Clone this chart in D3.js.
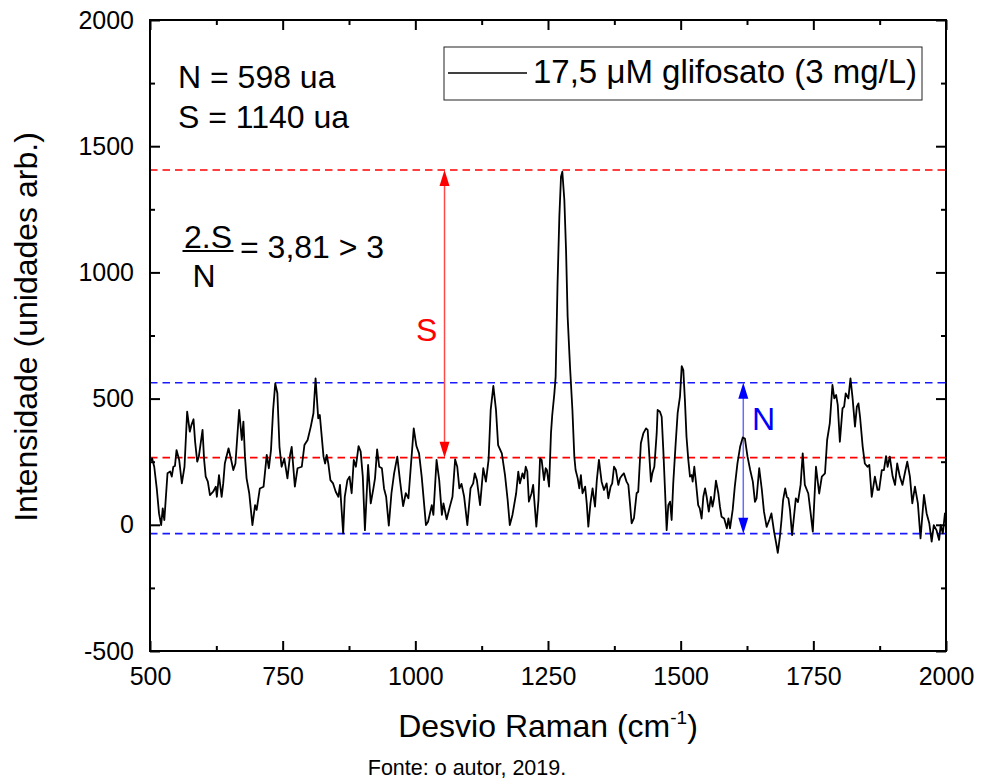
<!DOCTYPE html>
<html>
<head>
<meta charset="utf-8">
<script src="https://cdn.jsdelivr.net/npm/d3@7/dist/d3.min.js"></script>
<style>
  html, body { margin: 0; padding: 0; background: #fff; }
  svg { display: block; font-family: "Liberation Sans", Arial, sans-serif; }
</style>
</head>
<body>
<svg id="chart" width="982" height="783"></svg>
<script>
// ---------------- data ----------------
const ramanShift = [
  500,504,508,513,517,521,524,527,533,538,541,544,547,550,555,560,565,570,575,578,582,585,589,592,599,602,605,609,613,619,624,626,630,635,638,641,648,653,657,661,668,673,676,679,682,687,693,698,701,707,714,720,724,728,732,736,740,744,748,753,759,764,767,773,778,786,791,797,803,808,812,817,820,827,830,833,836,840,845,850,855,858,864,
  867,872,876,880,884,888,893,897,901,905,911,916,921,924,928,932,937,941,945,950,955,960,966,971,977,982,987,991,997,1002,1007,1012,1020,1024,1031,1034,1040,1045,1050,1053,1059,1065,1070,1075,1079,1083,1087,1092,1098,1104,1109,1112,1116,1122,1128,1133,1138,1142,1147,1152,1156,1163,1169,1174,1178,1183,1190,1194,1197,1202,1205,1208,1211,1214,1219,1222,1228,
  1232,1235,1238,1242.5,1245.6,1248,1252,1255.6,1258,1262,1264.4,1268,1271.4,1274.5,1277,1280.8,1284,1287,1291.5,1296,1299.6,1302,1306,1309,1312,1315,1320,1323,1326,1330,1334,1338.6,1342,1346,1351,1355.5,1360.5,1363.7,1368,1371,1374.4,1378,1382.5,1385.7,1390,1393,1398,1401.4,1404.5,1407.6,1412,1417,1420,1425,1429.6,1434.7,1437.8,1440.3,1444,1446.6,1450.4,1454.8,1456.6,1461,1464.2,1467.3,1470.5,1473.6,1476.7,1480,1483,1486,1490.6,1494.3,1498.7,
  1502,1505,1508,1511,1514.4,1517.6,1520.7,1522.6,1525.7,1529,1533,1536,1539.5,1542.7,1546,1549,1553,1557,1560,1563,1566.5,1571,1574,1577,1582,1587,1590,1593,1598,1602,1607,1612,1617,1621,1626,1631,1636,1640,1643,1648,1653,1657,1662,1667,1671,1676,1680,1683,1687,1690,1693,1697,1700,1703,1706,1710,1713.5,1717,1721,
  1726,1730,1734,1740.5,1745,1749,1755,1761,1766,1772,1776,1781,1786,1789.5,1793,1796,1800,1805,1808,1811,1816,1820,1824,1828.5,1832,1835,1838,1843,1847,1852,1855.5,1860,1866,1871,1874,1879,1883,1887,1890,1894,1899.5,1904,1908,1913,1918,1923,1927,1932,1936.5,1941.5,1947,1952,1958.5,1963.5,1968.5,1973,1977,1982,1987,1990,1994,1998,2000
];
const intensity = [
  250,263,230,138,45,-1,65,19,204,211,191,230,233,296,257,164,230,448,369,395,418,329,250,270,376,257,191,171,118,131,151,111,197,111,164,243,303,257,217,243,455,336,409,270,184,125,-1,78,59,144,151,277,224,296,455,560,521,309,230,263,184,277,309,151,224,230,316,336,389,442,580,422,435,270,243,277,243,177,164,131,111,158,-34,
  111,177,191,125,257,230,312,290,191,-21,237,85,144,184,299,230,224,144,111,-3,125,204,270,177,74,125,105,217,382,312,283,191,-1,12,78,39,257,177,39,85,22,72,111,259,230,144,162,111,-1,144,164,204,177,78,224,171,257,455,550,455,316,283,197,98,-1,39,125,211,164,204,184,230,211,92,125,158,-7,
  98,263,257,177,224,217,151,362,435,521,587,957,1221,1379,1399,1287,1089,825,626,455,270,217,184,144,197,125,151,85,-7,85,144,72,177,257,171,138,164,105,151,164,230,217,158,184,197,204,171,158,85,6,26,125,131,323,362,382,376,296,171,204,230,362,455,448,428,296,138,-21,78,92,19,164,323,442,508,
  629,613,494,349,257,191,197,171,230,164,78,65,25,111,144,111,52,111,72,105,175,125,72,32,25,-14,25,-14,59,151,243,309,346,342,270,217,171,91,105,224,138,52,-8,19,45,-27,-73,-111,-47,19,98,144,111,105,59,-41,32,105,90,
  158,283,158,124,45,-27,230,124,191,204,336,402,554,501,514,475,329,461,468,521,501,580,501,389,468,481,428,310,243,230,237,111,191,138,138,217,217,272,230,270,191,158,243,191,158,210,250,191,85,151,85,-54,118,45,6,-67,-1,-21,-60,-1,-34,45,40
];
const seriesName = "17,5 \u03BCM glifosato (3 mg/L)";
const xTicks = [500, 750, 1000, 1250, 1500, 1750, 2000];
const xMinorTicks = [625, 875, 1125, 1375, 1625, 1875];
const yTicks = [-500, 0, 500, 1000, 1500, 2000];
const yMinorTicks = [-250, 250, 750, 1250, 1750];
const signalLevels = [1406, 266];   // red dashed
const noiseLevels = [563, -35];     // blue dashed
const sArrowX = 1055;
const nArrowX = 1618;
const noteLines = ["N = 598 ua", "S = 1140 ua"];
const ratioParts = ["2.S", "N", "= 3,81 > 3"];

// ---------------- layout ----------------
const svg = d3.select("#chart");
const L = 150, R = 946, T = 20, B = 651;
const x = d3.scaleLinear().domain([500, 2000]).range([L, R]);
const y = d3.scaleLinear().domain([-500, 2000]).range([B, T]);

// reference dashed lines
function hline(v, color) {
  svg.append("line")
    .attr("x1", L).attr("x2", R)
    .attr("y1", y(v)).attr("y2", y(v))
    .attr("stroke", color).attr("stroke-width", 1.6)
    .attr("stroke-dasharray", "7.5,5");
}
signalLevels.forEach(v => hline(v, "#ff0000"));
noiseLevels.forEach(v => hline(v, "#1a1aff"));

// arrows
function arrow(xv, v1, v2, lineColor, headColor) {
  const xp = x(xv);
  const top = y(Math.max(v1, v2)), bot = y(Math.min(v1, v2));
  const hl = 16, hw = 5;
  svg.append("line").attr("x1", xp).attr("x2", xp)
    .attr("y1", top + hl - 2).attr("y2", bot - hl + 2)
    .attr("stroke", lineColor).attr("stroke-width", 1.5);
  svg.append("path")
    .attr("d", `M${xp},${top} L${xp - hw},${top + hl} L${xp + hw},${top + hl} Z`)
    .attr("fill", headColor);
  svg.append("path")
    .attr("d", `M${xp},${bot} L${xp - hw},${bot - hl} L${xp + hw},${bot - hl} Z`)
    .attr("fill", headColor);
}
arrow(sArrowX, signalLevels[0], signalLevels[1], "#ff4a4a", "#ff0000");
arrow(nArrowX, noiseLevels[0], noiseLevels[1], "#6a6aff", "#0000ff");

// trace
const pts = ramanShift.map((c, i) => [c, intensity[i]]);
svg.append("path")
  .datum(pts)
  .attr("fill", "none")
  .attr("stroke", "#000")
  .attr("stroke-width", 1.8)
  .attr("stroke-linejoin", "round")
  .attr("d", d3.line().x(d => x(d[0])).y(d => y(d[1])));

// axes
const tickFont = 25;
const fmt = d => String(d);
function styleAxis(g) {
  g.select(".domain").remove();
  g.selectAll("line").attr("stroke", "#000").attr("stroke-width", 2);
  g.selectAll("text").attr("font-size", tickFont).attr("fill", "#000")
    .attr("font-family", "'Liberation Sans', Arial, sans-serif");
}
svg.append("g").attr("transform", `translate(0,${B})`)
  .call(d3.axisBottom(x).tickValues(xTicks).tickSize(-10).tickPadding(16).tickFormat(fmt))
  .call(styleAxis);
svg.append("g").attr("transform", `translate(0,${B})`)
  .call(d3.axisBottom(x).tickValues(xMinorTicks).tickSize(-5).tickFormat(""))
  .call(styleAxis);
svg.append("g").attr("transform", `translate(0,${T})`)
  .call(d3.axisTop(x).tickValues(xTicks).tickSize(-10).tickFormat(""))
  .call(styleAxis);
svg.append("g").attr("transform", `translate(0,${T})`)
  .call(d3.axisTop(x).tickValues(xMinorTicks).tickSize(-5).tickFormat(""))
  .call(styleAxis);
svg.append("g").attr("transform", `translate(${L},0)`)
  .call(d3.axisLeft(y).tickValues(yTicks).tickSize(-10).tickPadding(16).tickFormat(fmt))
  .call(styleAxis);
svg.append("g").attr("transform", `translate(${L},0)`)
  .call(d3.axisLeft(y).tickValues(yMinorTicks).tickSize(-5).tickFormat(""))
  .call(styleAxis);
svg.append("g").attr("transform", `translate(${R},0)`)
  .call(d3.axisRight(y).tickValues(yTicks).tickSize(-10).tickFormat(""))
  .call(styleAxis);
svg.append("g").attr("transform", `translate(${R},0)`)
  .call(d3.axisRight(y).tickValues(yMinorTicks).tickSize(-5).tickFormat(""))
  .call(styleAxis);

// frame
svg.append("rect").attr("x", L).attr("y", T).attr("width", R - L).attr("height", B - T)
  .attr("fill", "none").attr("stroke", "#000").attr("stroke-width", 2);

// axis titles
const xt = svg.append("text").attr("x", 548).attr("y", 737)
  .attr("text-anchor", "middle").attr("font-size", 32).attr("fill", "#000");
xt.append("tspan").text("Desvio Raman (cm");
xt.append("tspan").text("-1").attr("font-size", 19).attr("dy", -13);
xt.append("tspan").text(")").attr("dy", 13);

svg.append("text")
  .attr("transform", "translate(37,327) rotate(-90)")
  .attr("text-anchor", "middle").attr("font-size", 32).attr("fill", "#000")
  .text("Intensidade (unidades arb.)");

svg.append("text").attr("x", 467).attr("y", 775).attr("text-anchor", "middle")
  .attr("font-size", 21.5).attr("fill", "#000").text("Fonte: o autor, 2019.");

// legend
svg.append("rect").attr("x", 444).attr("y", 47).attr("width", 478).attr("height", 53)
  .attr("fill", "#fff").attr("stroke", "#222").attr("stroke-width", 1);
svg.append("line").attr("x1", 448).attr("x2", 527).attr("y1", 73).attr("y2", 73)
  .attr("stroke", "#000").attr("stroke-width", 1.5);
svg.append("text").attr("x", 533).attr("y", 83).attr("font-size", 33).attr("fill", "#000")
  .text(seriesName);

// annotations
svg.append("text").attr("x", 178).attr("y", 88).attr("font-size", 32).attr("fill", "#000").text(noteLines[0]);
svg.append("text").attr("x", 178).attr("y", 128).attr("font-size", 32).attr("fill", "#000").text(noteLines[1]);
svg.append("text").attr("x", 208).attr("y", 248).attr("text-anchor", "middle").attr("font-size", 32).attr("fill", "#000").text(ratioParts[0]);
svg.append("line").attr("x1", 182.5).attr("x2", 233.5).attr("y1", 251).attr("y2", 251).attr("stroke", "#000").attr("stroke-width", 2);
svg.append("text").attr("x", 204).attr("y", 287).attr("text-anchor", "middle").attr("font-size", 32).attr("fill", "#000").text(ratioParts[1]);
svg.append("text").attr("x", 240).attr("y", 258).attr("font-size", 32).attr("fill", "#000").text(ratioParts[2]);

svg.append("text").attr("x", 416).attr("y", 341).attr("font-size", 32).attr("fill", "#ff0000").text("S");
svg.append("text").attr("x", 752).attr("y", 430).attr("font-size", 32).attr("fill", "#0000ff").text("N");
</script>
</body>
</html>
